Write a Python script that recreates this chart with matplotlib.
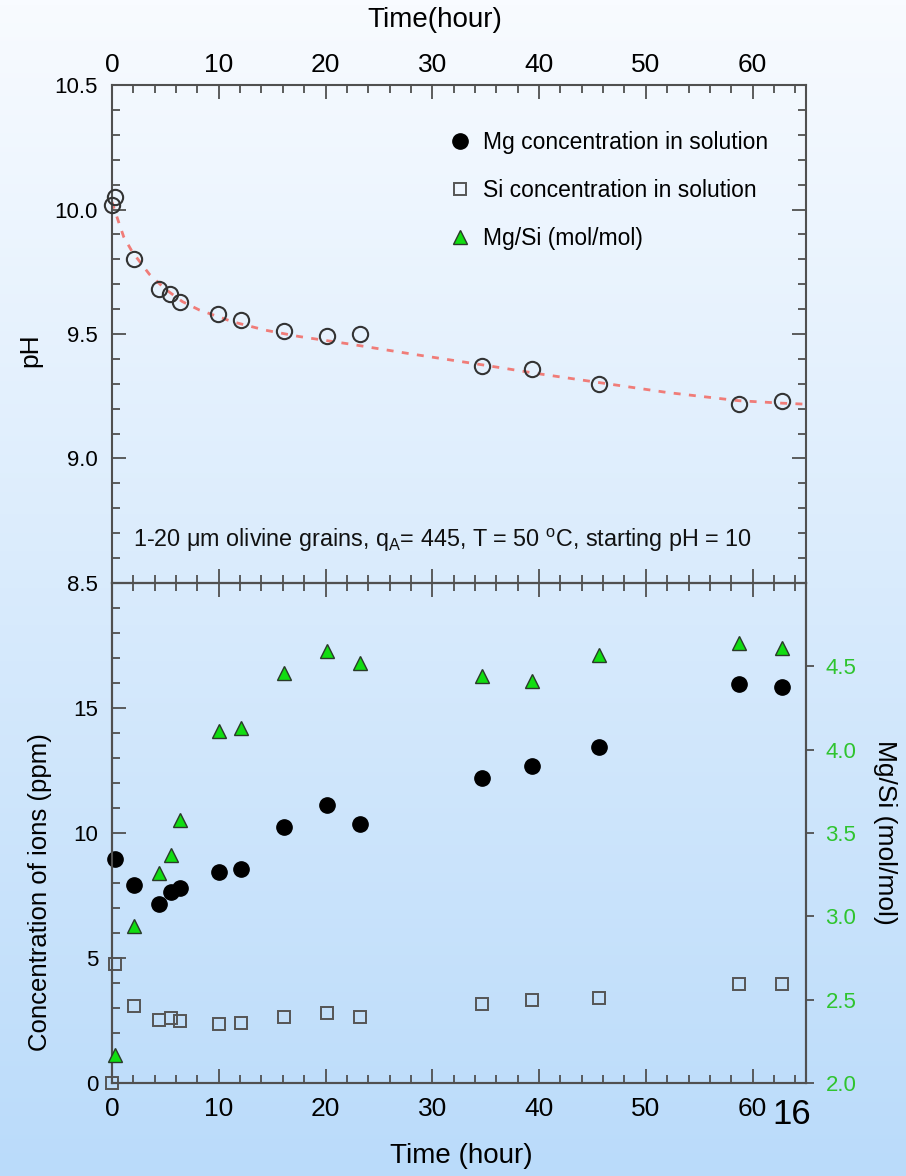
import numpy as np
import matplotlib
matplotlib.use('Agg')
import matplotlib.pyplot as plt
from matplotlib.ticker import MultipleLocator, FixedLocator

# --- data ---
ph_time = [0.0, 0.3, 2.1, 4.4, 5.4, 6.4, 9.9, 12.1, 16.1, 20.1, 23.2, 34.7, 39.3, 45.6, 58.7, 62.8]
ph = [10.02, 10.05, 9.80, 9.68, 9.66, 9.63, 9.58, 9.555, 9.51, 9.49, 9.50, 9.37, 9.36, 9.30, 9.22, 9.23]

# dashed fit line through the pH data
fit_time = [0.0, 0.66, 1.1, 1.9, 3.5, 5.0, 6.6, 8.2, 11.3, 14.4, 17.5, 22.2, 28.0, 34.7, 40.0, 45.6, 52.0, 58.7, 62.8, 65.0]
fit_ph = [10.03, 9.945, 9.89, 9.83, 9.74, 9.68, 9.63, 9.596, 9.549, 9.515, 9.49, 9.46, 9.42, 9.376, 9.34, 9.305, 9.265, 9.232, 9.222, 9.218]

ion_time = [0.3, 2.1, 4.4, 5.5, 6.4, 10.0, 12.1, 16.1, 20.1, 23.2, 34.7, 39.3, 45.6, 58.7, 62.8]
mg = [8.95, 7.92, 7.16, 7.63, 7.79, 8.45, 8.55, 10.25, 11.11, 10.35, 12.19, 12.69, 13.44, 15.95, 15.85]
si_time = [0.0] + ion_time
si = [0.0, 4.76, 3.08, 2.52, 2.61, 2.49, 2.36, 2.39, 2.65, 2.79, 2.63, 3.16, 3.32, 3.39, 3.96, 3.96]
mg_si = [2.17, 2.94, 3.26, 3.37, 3.58, 4.11, 4.13, 4.46, 4.59, 4.52, 4.44, 4.41, 4.57, 4.64, 4.61]

legend_labels = ['Mg concentration in solution', 'Si concentration in solution', 'Mg/Si (mol/mol)']
note = '1-20 μm olivine grains, q$_\\mathrm{A}$= 445, T = 50 $^\\mathrm{o}$C, starting pH = 10'

narrow = ['Liberation Sans Narrow', 'Liberation Sans', 'DejaVu Sans']
plt.rcParams['font.family'] = ['Liberation Sans', 'DejaVu Sans']
plt.rcParams['mathtext.fontset'] = 'custom'
plt.rcParams['mathtext.rm'] = 'Liberation Sans'
plt.rcParams['mathtext.it'] = 'Liberation Sans:italic'

spine_c = '#505050'
green = '#2fc42f'

fig = plt.figure(figsize=(9.06, 11.76), dpi=100)

# slide background gradient
bg = fig.add_axes([0, 0, 1, 1], zorder=-10)
top_c = np.array([248, 251, 255]) / 255
bot_c = np.array([186, 219, 250]) / 255
f = np.linspace(0, 1, 256)[:, None]
grad = top_c * (1 - f) + bot_c * f
bg.imshow(grad[:, None, :], aspect='auto', extent=[0, 1, 0, 1])
bg.axis('off')

ax1 = fig.add_axes([0.1236, 0.5043, 0.766, 0.4234])
ax2 = fig.add_axes([0.1236, 0.0791, 0.766, 0.4252])
ax3 = ax2.twinx()
for a in (ax1, ax2, ax3):
    a.set_facecolor('none')
    for s in a.spines.values():
        s.set_color(spine_c)
        s.set_linewidth(1.5)

# ---- top panel: pH ----
ax1.plot(fit_time, fit_ph, linestyle=(0, (2.5, 3)), color='#f07c78', lw=2, zorder=2)
ax1.plot(ph_time, ph, 'o', ms=11, mfc='none', mec='#333333', mew=1.5, zorder=3, clip_on=False)
ax1.set_xlim(0, 65)
ax1.set_ylim(8.5, 10.5)
ax1.xaxis.set_major_locator(MultipleLocator(10))
ax1.xaxis.set_minor_locator(MultipleLocator(2))
ax1.yaxis.set_major_locator(MultipleLocator(0.5))
ax1.yaxis.set_minor_locator(MultipleLocator(0.1))
ax1.set_yticks([8.5, 9.0, 9.5, 10.0, 10.5])
ax1.tick_params(axis='both', which='both', direction='in', color=spine_c, width=1.3,
                top=True, bottom=True, left=True, right=True)
ax1.tick_params(axis='x', labeltop=True, labelbottom=False, pad=6, labelsize=19)
ax1.tick_params(axis='y', pad=10, labelsize=16)
ax1.tick_params(which='major', length=10)
ax1.tick_params(which='minor', length=6)
for lb in ax1.get_xticklabels():
    lb.set_family(narrow)
ax1.yaxis.set_major_formatter(matplotlib.ticker.FormatStrFormatter('%.1f'))

ax1.set_xlabel('Time(hour)', fontsize=20, family=narrow)
ax1.xaxis.set_label_position('top')
ax1.xaxis.set_label_coords(0.465, 1.13)
ax1.set_ylabel('pH', fontsize=19, family=narrow)
ax1.yaxis.set_label_coords(-0.118, 0.468)
ax1.yaxis.label.set(ha='center', va='center', rotation_mode='default')
ax1.xaxis.label.set(va='center')

ax1.text(0.030, 0.086, note, transform=ax1.transAxes, fontsize=16.8, family=narrow,
         ha='left', va='center', color='#111111')

# ---- bottom panel: ions ----
h_mg, = ax2.plot(ion_time, mg, 'o', ms=11, color='black', zorder=3, clip_on=False)
h_si, = ax2.plot(si_time, si, 's', ms=8.5, mfc='none', mec='#555555', mew=1.4, zorder=3, clip_on=False)
h_r, = ax3.plot(ion_time, mg_si, '^', ms=10.5, mfc='#11dd11', mec='#2a3a2a', mew=1.0, zorder=3, clip_on=False)

ax2.set_xlim(0, 65)
ax2.set_ylim(0, 20)
ax2.xaxis.set_major_locator(MultipleLocator(10))
ax2.xaxis.set_minor_locator(MultipleLocator(2))
ax2.yaxis.set_major_locator(FixedLocator([0, 5, 10, 15]))
ax2.yaxis.set_minor_locator(MultipleLocator(1))
ax2.tick_params(axis='both', which='both', direction='in', color=spine_c, width=1.3,
                top=True, bottom=True, left=True, right=False)
ax2.tick_params(axis='x', pad=10, labelsize=19)
ax2.tick_params(axis='y', pad=10, labelsize=16)
ax2.tick_params(which='major', length=10)
ax2.tick_params(which='minor', length=6)
for lb in ax2.get_xticklabels():
    lb.set_family(narrow)

ax2.set_xlabel('Time (hour)', fontsize=20, family=narrow)
ax2.xaxis.set_label_coords(0.504, -0.146)
ax2.xaxis.label.set(va='center')
ax2.set_ylabel('Concentration of ions (ppm)', fontsize=18.5, family=narrow)
ax2.yaxis.set_label_coords(-0.104, 0.382)
ax2.yaxis.label.set(ha='center', va='center', rotation_mode='default')

ax3.set_ylim(2, 5)
ax3.set_yticks([2.0, 2.5, 3.0, 3.5, 4.0, 4.5])
ax3.yaxis.set_major_formatter(matplotlib.ticker.FormatStrFormatter('%.1f'))
ax3.tick_params(axis='y', direction='out', length=6, width=1.3, color=spine_c,
                labelcolor=green, labelsize=16, pad=8)
ax3.set_ylabel('Mg/Si (mol/mol)', fontsize=19, rotation=270)
ax3.yaxis.set_label_coords(1.114, 0.502)
ax3.yaxis.label.set(ha='center', va='center', rotation_mode='default')

ax1.legend([h_mg, h_si, h_r], legend_labels, loc='upper left', bbox_to_anchor=(0.458, 0.95),
           frameon=False, fontsize=16.5, handlelength=0.8, handletextpad=0.6, labelspacing=1.1)

fig.text(0.874, 0.052, '16', fontsize=25, ha='center', va='center', color='black')

fig.savefig('out.png', dpi=100)
